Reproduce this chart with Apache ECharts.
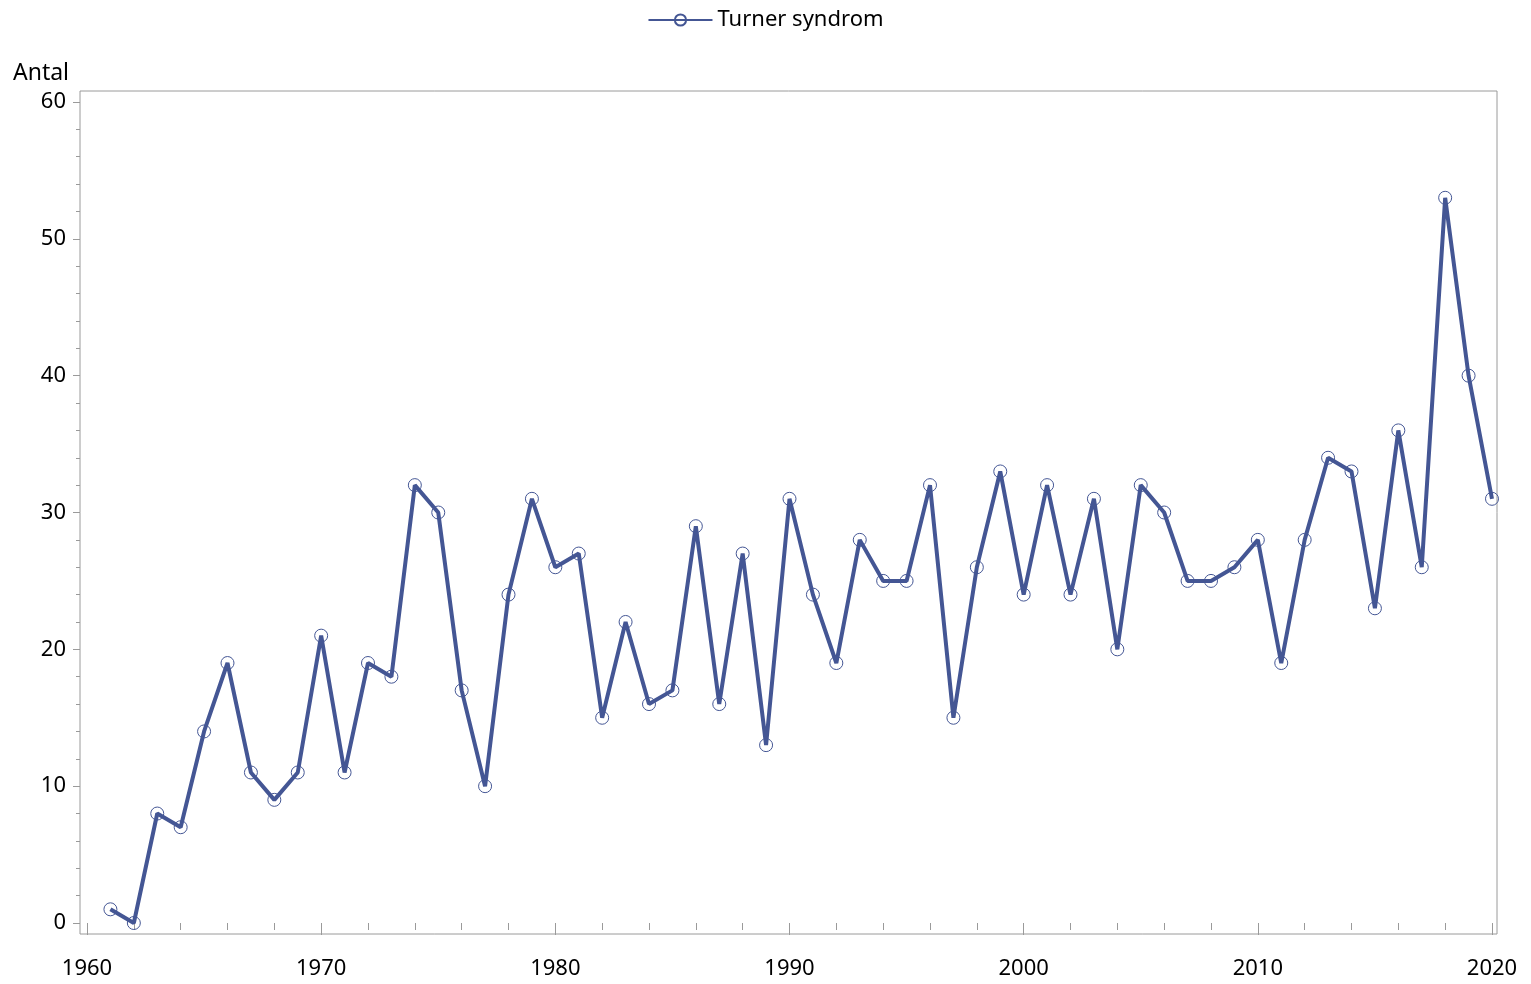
<!DOCTYPE html>
<html>
<head>
<meta charset="utf-8">
<script src="https://cdn.jsdelivr.net/npm/echarts@6/dist/echarts.min.js"></script>
<style>
    html, body { margin: 0; padding: 0; background: #fff; }
    #main { width: 1531px; height: 984px; }
</style>
</head>
<body>
<div id="main"></div>
<script>
// årtal och antal
var years = [1961, 1962, 1963, 1964, 1965, 1966, 1967, 1968, 1969, 1970,
    1971, 1972, 1973, 1974, 1975, 1976, 1977, 1978, 1979, 1980,
    1981, 1982, 1983, 1984, 1985, 1986, 1987, 1988, 1989, 1990,
    1991, 1992, 1993, 1994, 1995, 1996, 1997, 1998, 1999, 2000,
    2001, 2002, 2003, 2004, 2005, 2006, 2007, 2008, 2009, 2010,
    2011, 2012, 2013, 2014, 2015, 2016, 2017, 2018, 2019, 2020];
var antal = [1, 0, 8, 7, 14, 19, 11, 9, 11, 21,
    11, 19, 18, 32, 30, 17, 10, 24, 31, 26,
    27, 15, 22, 16, 17, 29, 16, 27, 13, 31,
    24, 19, 28, 25, 25, 32, 15, 26, 33, 24,
    32, 24, 31, 20, 32, 30, 25, 25, 26, 28,
    19, 28, 34, 33, 23, 36, 26, 53, 40, 31];
var seriesName = 'Turner syndrom';

var points = [];
for (var i = 0; i < years.length; i++) {
    points.push([years[i], antal[i]]);
}

var lineColor = '#445694';
var axisGrey = '#9a9a9a';
var font = 'Noto Sans';

var mychart = echarts.init(document.getElementById('main'));
var option = {
    animation: false,
    textStyle: { fontFamily: font },
    title: {
        text: 'Antal',
        left: 8,
        top: 57,
        textStyle: { fontSize: 23, fontWeight: 'normal', color: '#000', fontFamily: font }
    },
    legend: {
        top: 4,
        left: 'center',
        itemWidth: 64,
        itemHeight: 14,
        itemGap: 12,
        textStyle: { fontSize: 22, color: '#000', fontFamily: font },
        data: [seriesName]
    },
    grid: [
        // ram runt plottytan
        { left: 80, right: 34, top: 91, bottom: 50, show: true, borderColor: axisGrey, borderWidth: 1 },
        // dataytan
        { left: 87, right: 39, top: 102, bottom: 61 }
    ],
    xAxis: [
        { gridIndex: 0, type: 'value', show: false, min: 0, max: 1 },
        {
            gridIndex: 1,
            type: 'value',
            min: 1960,
            max: 2020,
            interval: 10,
            offset: 11,
            splitLine: { show: false },
            axisLine: { show: false },
            axisTick: { show: true, length: 12, lineStyle: { color: axisGrey } },
            minorTick: { show: true, splitNumber: 5, length: 7, lineStyle: { color: axisGrey } },
            axisLabel: {
                fontSize: 22, color: '#000', margin: 24, fontFamily: font,
                formatter: function (v) { return String(v); }
            }
        }
    ],
    yAxis: [
        { gridIndex: 0, type: 'value', show: false, min: 0, max: 1 },
        {
            gridIndex: 1,
            type: 'value',
            min: 0,
            max: 60,
            interval: 10,
            offset: 7,
            splitLine: { show: false },
            axisLine: { show: false },
            axisTick: { show: true, length: 7, lineStyle: { color: axisGrey } },
            minorTick: { show: true, splitNumber: 5, length: 4, lineStyle: { color: axisGrey } },
            axisLabel: { fontSize: 22, color: '#000', margin: 14, fontFamily: font }
        }
    ],
    series: [
        {
            name: seriesName,
            type: 'line',
            xAxisIndex: 1,
            yAxisIndex: 1,
            data: points,
            symbol: 'circle',
            symbolSize: 13,
            lineStyle: { color: lineColor, width: 4 },
            itemStyle: { color: 'rgba(255,255,255,0)', borderColor: lineColor, borderWidth: 1 },
            emphasis: { disabled: true },
            z: 3
        }
    ]
};
mychart.setOption(option);
</script>
</body>
</html>
